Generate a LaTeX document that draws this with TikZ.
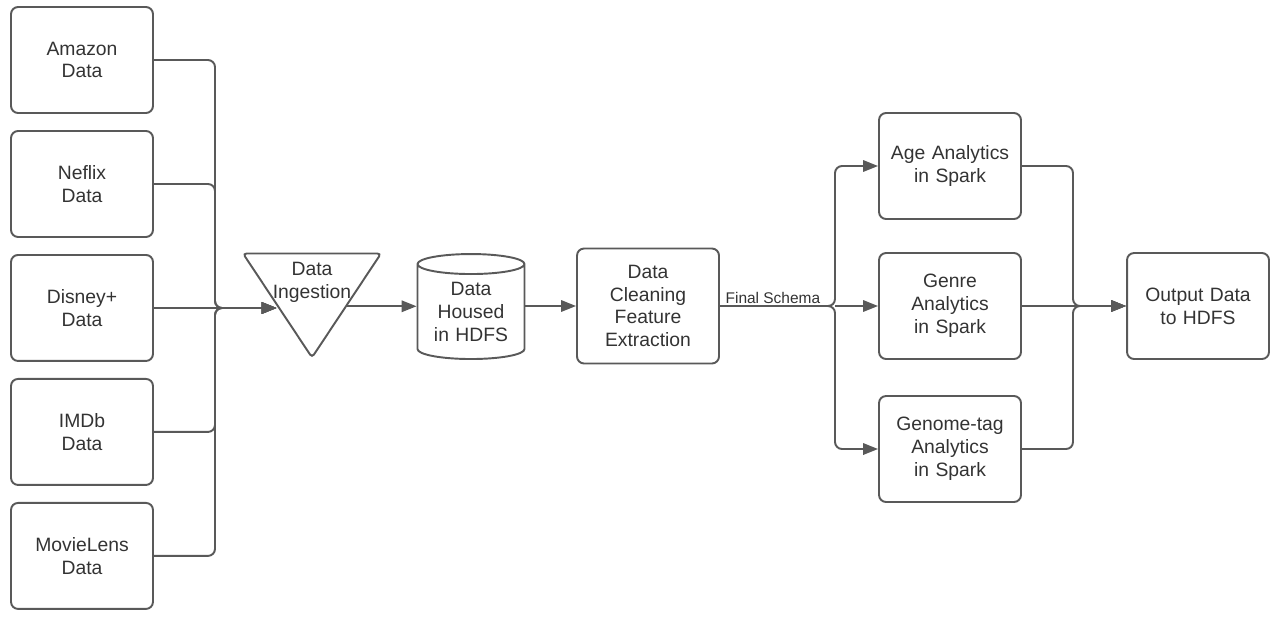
\documentclass[tikz,border=0pt]{standalone}
\usepackage{fontspec}
\setmainfont{Liberation Sans}
\usetikzlibrary{positioning, shapes.geometric, arrows.meta}
\definecolor{linegray}{HTML}{595959}
\definecolor{textgray}{HTML}{333333}
\tikzset{
	block/.style={
		rectangle,
		draw=linegray,
		line width=1.1pt,
		text width=2.6cm,
		text centered,
		minimum width=2.84cm,
		minimum height=2.12cm,
		rounded corners=4pt,
		text=textgray,
		font=\fontsize{11}{13}\selectfont,
	},
	ingest/.style={
		draw=linegray,
		line width=1.1pt,
		shape=isosceles triangle,
		shape border rotate=270,
		isosceles triangle stretches,
		inner sep=0pt,
		minimum width=2.76cm,
		minimum height=2.08cm,
		rounded corners=2pt,
	},
	store/.style={
		draw=linegray,
		line width=1.1pt,
		shape=cylinder,
		shape border rotate=90,
		aspect=0.2,
		inner sep=0pt,
		minimum width=2.14cm,
		minimum height=2.1cm,
		text width=2cm,
		text centered,
		text=textgray,
		font=\fontsize{11}{13}\selectfont,
	},
	link/.style={
		draw=linegray,
		line width=1.1pt,
		rounded corners=4pt,
	},
}

\begin{document}
\begin{tikzpicture}[x=0.02cm, y=-0.02cm, node distance = 2.48cm, >={Triangle[length=8.5pt, width=6.5pt]}]
		\useasboundingbox (0,0) rectangle (1280,620);
		% Sources
		\node [block] at (82,60) (amz) {Amazon\\Data};
		\node [block, below of = amz] (nfx) {Neflix\\Data};
		\node [block, below of = nfx] (dis) {Disney+\\Data};
		\node [block, below of = dis] (imdb) {IMDb\\Data};
		\node [block, below of = imdb] (mvl) {MovieLens\\Data};
		
		% Pipeline
		\node [ingest, anchor=apex] at (312,360) (ing) {};
		\node [text=textgray, font=\fontsize{11}{13}\selectfont, align=center] at (312,282) (ingtxt) {Data\\Ingestion};
		\node [store] at (471,312) (hdfs) {Data\\Housed\\in HDFS};
		\node [block, minimum height=2.3cm] at (648,306) (clean) {Data\\Cleaning\\Feature\\Extraction};
		
		% Analytics
		\node [block] at (950,166) (age) {Age Analytics\\in Spark};
		\node [block] at (950,306) (genre) {Genre\\Analytics\\in Spark};
		\node [block] at (950,449) (gtag) {Genome-tag\\Analytics\\in Spark};
		\node [block] at (1198,306) (out) {Output Data\\to HDFS};
		
		\coordinate (j1) at (215,308);
		\coordinate (fork) at (835,306);
		\coordinate (join) at (1073,306);
		
		\draw [link, ->] (amz.east) -| (j1) -- (ing.right side |- j1);
		\draw [link, ->] (nfx.east) -| (j1) -- (ing.right side |- j1);
		\draw [link, ->] (dis.east) -- (ing.right side |- dis.east);
		\draw [link, ->] (imdb.east) -| (j1) -- (ing.right side |- j1);
		\draw [link, ->] (mvl.east) -| (j1) -- (ing.right side |- j1);
		
		\draw [link, ->] (ing.left side) -- (hdfs.west |- ing.left side);
		\draw [link, ->] (hdfs.east |- clean.west) -- (clean.west);
		
		\draw [link, ->] (clean.east) -- node [above, pos=0.46, inner sep=1pt, text=textgray, font=\fontsize{8.8}{10}\selectfont] {Final Schema} (fork) |- (age.west);
		\draw [link, ->] (fork) -- (genre.west);
		\draw [link, ->] (clean.east) -- (fork) |- (gtag.west);
		
		\draw [link, ->] (age.east) -| (join) -- (out.west);
		\draw [link, ->] (genre.east) -- (out.west);
		\draw [link, ->] (gtag.east) -| (join) -- (out.west);

	\end{tikzpicture}
\end{document}
